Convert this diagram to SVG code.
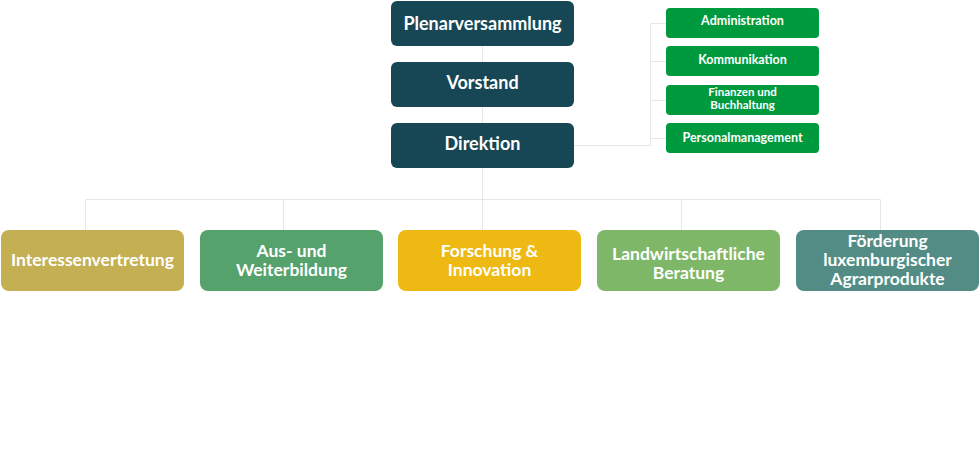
<svg xmlns="http://www.w3.org/2000/svg" width="980" height="463" viewBox="0 0 980 463">
<style>
text{font-family:Lato,"Open Sans","Liberation Sans",sans-serif;font-weight:700;fill:#fff;text-anchor:middle}
.top{font-size:18px}
.sub{font-size:12.5px}
.sm{font-size:11.5px}
.bot{font-size:17.5px}
.dark{fill:#174654}
.grn{fill:#009a3e}
.con{fill:none;stroke:#e6e6e6;stroke-width:1}
</style>
<rect width="980" height="463" fill="#fff"/>
<g id="connectors" class="con">
<path d="M482.5 46V62M482.5 107V123M482.5 168V199.5"/>
<path d="M85.5 230V199.5H880.5V230M283.5 199.5V230M482.5 199.5V230M681.5 199.5V230"/>
<path d="M574 145.5H650.5V23.5H666M650.5 61.5H666M650.5 100.5H666M650.5 138.5H666"/>
</g>
<g id="plenarversammlung"><rect class="dark" x="391" y="1" width="183" height="45" rx="6"/><text class="top" x="482.5" y="29.5">Plenarversammlung</text></g>
<g id="vorstand"><rect class="dark" x="391" y="62" width="183" height="45" rx="6"/><text class="top" x="482.5" y="88.5">Vorstand</text></g>
<g id="direktion"><rect class="dark" x="391" y="123" width="183" height="45" rx="6"/><text class="top" x="482.5" y="149.5">Direktion</text></g>
<g id="administration"><rect class="grn" x="666" y="8" width="153" height="30" rx="4"/><text class="sub" x="742.5" y="25">Administration</text></g>
<g id="kommunikation"><rect class="grn" x="666" y="46" width="153" height="30" rx="4"/><text class="sub" x="742.5" y="64">Kommunikation</text></g>
<g id="finanzen"><rect class="grn" x="666" y="85" width="153" height="30" rx="4"/><text class="sm" x="742.5" y="95.5">Finanzen und</text><text class="sm" x="742.5" y="108.5">Buchhaltung</text></g>
<g id="personalmanagement"><rect class="grn" x="666" y="123" width="153" height="30" rx="4"/><text class="sub" x="742.5" y="141.5">Personalmanagement</text></g>
<g id="interessenvertretung"><rect fill="#c4af52" x="1" y="230" width="183" height="61" rx="8"/><text class="bot" x="92.5" y="266">Interessenvertretung</text></g>
<g id="ausbildung"><rect fill="#56a26c" x="200" y="230" width="183" height="61" rx="8"/><text class="bot" x="291.5" y="256.5">Aus- und</text><text class="bot" x="291.5" y="275.5">Weiterbildung</text></g>
<g id="forschung"><rect fill="#edb912" x="398" y="230" width="183" height="61" rx="8"/><text class="bot" x="489.5" y="256.5">Forschung &amp;</text><text class="bot" x="489.5" y="275.5">Innovation</text></g>
<g id="beratung"><rect fill="#7fb769" x="597" y="230" width="183" height="61" rx="8"/><text class="bot" x="688.5" y="259.5">Landwirtschaftliche</text><text class="bot" x="688.5" y="278.5">Beratung</text></g>
<g id="foerderung"><rect fill="#528c84" x="796" y="230" width="183" height="61" rx="8"/><text class="bot" x="887.5" y="246.5">Förderung</text><text class="bot" x="887.5" y="265.5">luxemburgischer</text><text class="bot" x="887.5" y="284.5">Agrarprodukte</text></g>
</svg>
